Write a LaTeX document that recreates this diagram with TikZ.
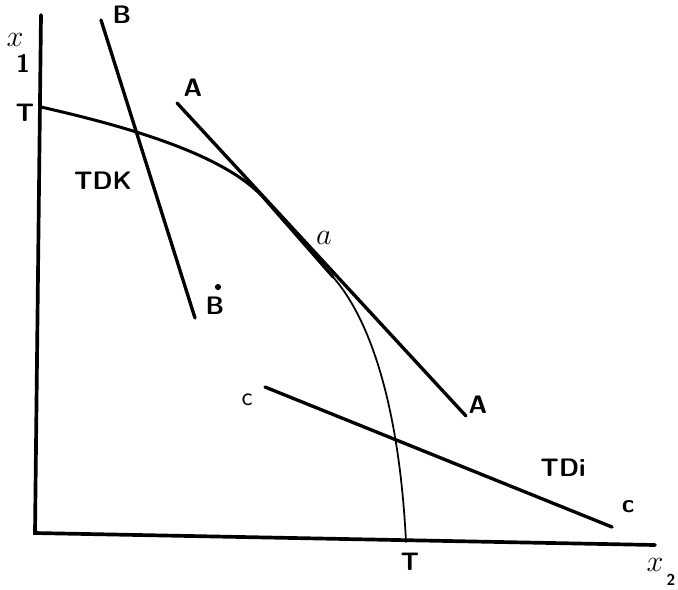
\documentclass[tikz,border=0pt]{standalone}
\usepackage{tikz}
\usetikzlibrary{positioning}

\begin{document}
\begin{tikzpicture}[
      x=0.02cm, y=-0.02cm,
      axis/.style={line width=2.1pt, line cap=round},
      ln/.style={line width=1.9pt, line cap=round},
      frt/.style={line width=1.7pt, line cap=round},
      frtthin/.style={line width=1pt, line cap=round},
      lbl/.style={font=\sffamily\bfseries\Large, inner sep=0pt},
    ]
    \useasboundingbox (0,0) rectangle (678,589);
    % axes
    \coordinate (o) at (35,533);
    \coordinate (ytop) at (41,15);
    \coordinate (xend) at (655,545);
    \draw[axis] (ytop) -- (o) -- (xend);
    % transformation curve T-T
    \coordinate (t1) at (41,107);
    \coordinate (tg) at (262,196);
    \coordinate (ta) at (333,277);
    \coordinate (t2) at (406,542);
    \draw[frt] (t1) .. controls (120,125) and (220,152) .. (tg) -- (ta);
    \draw[frtthin] (ta) .. controls (375,325) and (400,420) .. (t2);
    % price lines
    \coordinate (b1) at (101,20);  \coordinate (b2) at (195,318);
    \coordinate (a1) at (177,103); \coordinate (a2) at (466,416);
    \coordinate (c1) at (265,387); \coordinate (c2) at (612,527);
    \draw[ln] (b1) -- (b2);
    \draw[ln] (a1) -- (a2);
    \draw[ln] (c1) -- (c2);
    % labels
    \node[lbl] (lx1) at (15,40) {\LARGE$x$};
    \node[lbl] (l1) at (23,63) {1};
    \node[lbl] (lx2) at (655,565) {\LARGE$x$};
    \node[lbl, font=\sffamily\bfseries\small] (l2) at (671,580) {2};
    \node[lbl] (tl) at (25,113) {T};
    \node[lbl] (tb) at (410,562) {T};
    \node[lbl] (lB) at (122,15) {B};
    \node[lbl] (lBd) at (215,306) {B};
    \node[circle, fill, inner sep=0pt, minimum size=3.5pt] (bdot) at (218,287) {};
    \node[lbl] (lA) at (193,88) {A};
    \node[lbl] (lA2) at (478,405) {A};
    \node[lbl, font=\LARGE\bfseries] (la) at (324,238) {$a$};
    \node[lbl, font=\sffamily\Large] (lc) at (247,400) {c};
    \node[lbl] (lc2) at (628,507) {c};
    \node[lbl] (tdk) at (103,181) {TDK};
    \node[lbl] (tdi) at (563,468) {TDi};
  \end{tikzpicture}
\end{document}
